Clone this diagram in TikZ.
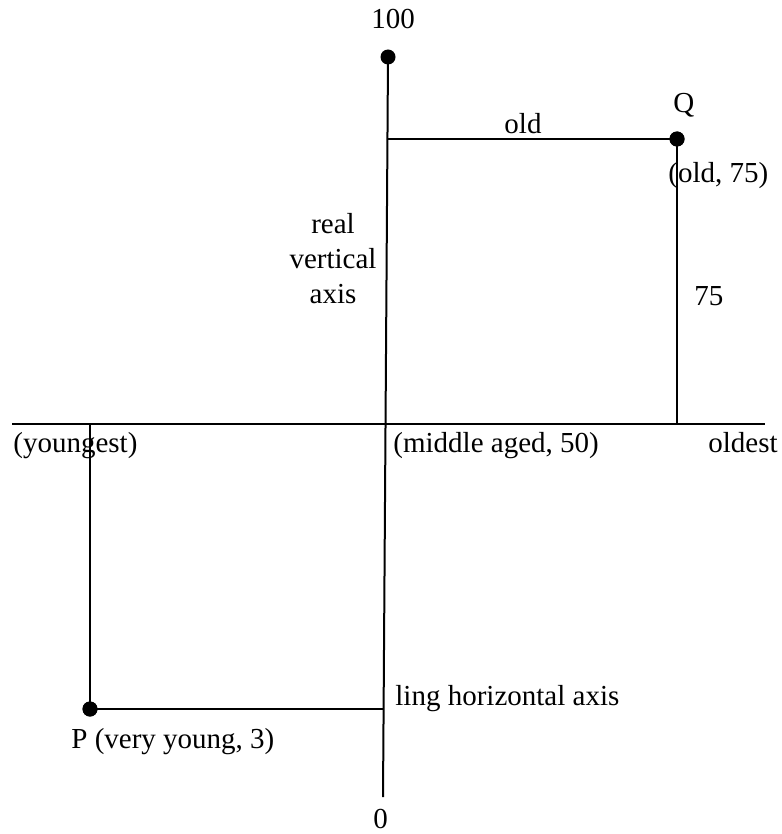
\documentclass[tikz,border=0pt]{standalone}
\usepackage{fontspec}
\setmainfont{Liberation Serif}
\usetikzlibrary{positioning,calc}

\begin{document}
\begin{tikzpicture}[x=0.5pt, y=-0.5pt,
    dot/.style={circle, fill=black, inner sep=0pt, minimum size=7.5pt},
    axisline/.style={line width=1pt, black},
    guide/.style={line width=0.8pt, black},
    lbl/.style={font=\fontsize{14.5}{17}\selectfont, inner sep=0pt, anchor=base west}
]
    \useasboundingbox (0,0) rectangle (781,834);

    % axes
    \coordinate (vtop) at (388,57);
    \coordinate (vbot) at (383,797);
    \coordinate (hleft) at (12,424);
    \coordinate (hright) at (765,424);
    \draw[axisline] (vtop) -- (vbot);
    \draw[axisline] (hleft) -- (hright);

    % points
    \node[dot] (top) at (vtop) {};
    \node[dot] (Q) at (677,139) {};
    \node[dot] (P) at (90,709) {};
    \coordinate (Qfoot) at (Q |- hleft);
    \coordinate (Pfoot) at (P |- hleft);
    \coordinate (Qaxis) at (387.4,139);
    \coordinate (Paxis) at (383.6,709);

    \draw[guide] (Qaxis) -- (Q.center) -- (Qfoot);
    \draw[guide] (Pfoot) -- (P.center) -- (Paxis);
    \node[dot] at (Q) {};
    \node[dot] at (P) {};

    % labels
    \node[lbl] (ltop) at (371,29) {100};
    \node[lbl] (lzero) at (373,828) {0};
    \node[lbl] (lQ) at (673,113) {Q};
    \node[lbl] (lQval) at (668,183) {(old, 75)};
    \node[lbl, anchor=base] (lold) at (523,134) {old};
    \node[lbl] (l75) at (694,305) {75};
    \node[lbl, anchor=base, align=center, font=\fontsize{14.5}{17.5}\selectfont] (lreal) at (333,303) {real\\vertical\\axis};
    \node[lbl] (lyoung) at (13,452) {(youngest)};
    \node[lbl] (lmid) at (393,452) {(middle aged, 50)};
    \node[lbl] (loldest) at (708,452) {oldest};
    \node[lbl] (lling) at (395,705) {ling horizontal axis};
    \node[lbl] (lP) at (71,748) {P (very young, 3)};
\end{tikzpicture}
\end{document}
